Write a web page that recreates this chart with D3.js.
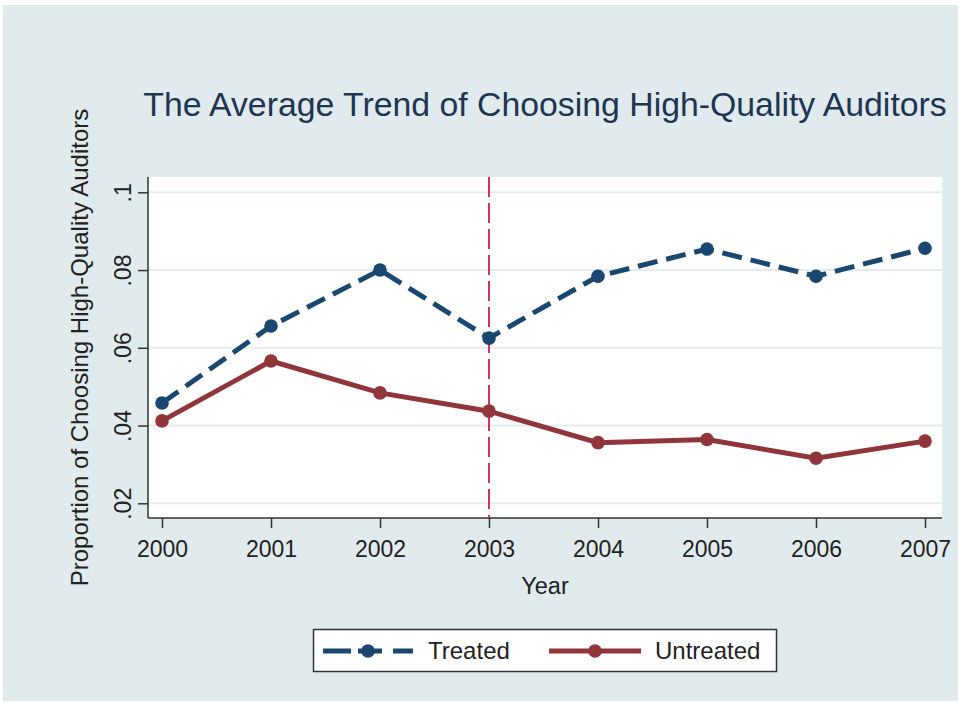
<!DOCTYPE html>
<html>
<head>
<meta charset="utf-8">
<script src="https://cdn.jsdelivr.net/npm/d3@7"></script>
<style>
  body { margin: 0; background: #ffffff; }
  text { font-family: "Liberation Sans", Arial, Helvetica, sans-serif; }
</style>
</head>
<body>
<svg id="chart"></svg>
<script>
// values
const years = [2000, 2001, 2002, 2003, 2004, 2005, 2006, 2007];
const treated = [0.0458, 0.0656, 0.0800, 0.0625, 0.0784, 0.0854, 0.0784, 0.0856];
const untreated = [0.0412, 0.0566, 0.0484, 0.0437, 0.0356, 0.0364, 0.0316, 0.0360];
const yTicks = [0.02, 0.04, 0.06, 0.08, 0.1];
const yTickLabels = [".02", ".04", ".06", ".08", ".1"];
const policyYear = 2003;
const seriesNames = ["Treated", "Untreated"];

const width = 959, height = 702;
const colors = {
  background: "#e1eaec",
  grid: "#e4ecee",
  treated: "#1a476f",
  untreated: "#90353b",
  vline: "#cf1f4a",
  text: "#222222",
  title: "#1e3553"
};

const plot = { left: 148, right: 942, top: 177, bottom: 518 };

const svg = d3.select("#chart")
    .attr("width", width)
    .attr("height", height);

svg.append("rect")
    .attr("x", 3).attr("y", 5)
    .attr("width", width - 4).attr("height", height - 6)
    .attr("fill", colors.background);

const x = d3.scaleLinear()
    .domain([2000, 2007])
    .range([162, 925]);

const y = d3.scaleLinear()
    .domain([0.02, 0.1])
    .range([503.3, 192.3]);

// plot region
svg.append("rect")
    .attr("x", plot.left).attr("y", plot.top)
    .attr("width", plot.right - plot.left)
    .attr("height", plot.bottom - plot.top)
    .attr("fill", "#ffffff");

// grid lines
svg.append("g")
    .selectAll("line")
    .data(yTicks)
    .enter().append("line")
    .attr("x1", plot.left).attr("x2", plot.right)
    .attr("y1", d => y(d)).attr("y2", d => y(d))
    .style("stroke", colors.grid)
    .style("stroke-width", 2);

// y axis
const yAxis = svg.append("g")
    .attr("transform", "translate(" + plot.left + ",0)")
    .call(d3.axisLeft(y).tickValues(yTicks).tickSize(10).tickPadding(0)
      .tickFormat((d, i) => yTickLabels[i]));
yAxis.select(".domain").remove();
yAxis.append("line")
    .attr("x1", 0).attr("x2", 0)
    .attr("y1", plot.top).attr("y2", plot.bottom)
    .style("stroke", "#333").style("stroke-width", 1.5);
yAxis.selectAll(".tick line").style("stroke", "#333").style("stroke-width", 1.5);
yAxis.selectAll(".tick text")
    .attr("x", 0).attr("dy", null)
    .attr("transform", "translate(-17,0) rotate(-90)")
    .attr("text-anchor", "middle")
    .style("font-size", "23px")
    .style("fill", colors.text);

// x axis
const xAxis = svg.append("g")
    .attr("transform", "translate(0," + plot.bottom + ")")
    .call(d3.axisBottom(x).tickValues(years).tickSize(10).tickPadding(8)
      .tickFormat(d3.format("d")));
xAxis.select(".domain").remove();
xAxis.append("line")
    .attr("x1", plot.left).attr("x2", plot.right)
    .attr("y1", 0).attr("y2", 0)
    .style("stroke", "#333").style("stroke-width", 1.5);
xAxis.selectAll(".tick line").style("stroke", "#333").style("stroke-width", 1.5);
xAxis.selectAll(".tick text")
    .attr("dy", null).attr("y", 39)
    .style("font-size", "23px")
    .style("fill", colors.text);

// axis titles
svg.append("text")
    .attr("x", (plot.left + plot.right) / 2)
    .attr("y", 594)
    .attr("text-anchor", "middle")
    .style("font-size", "23.5px")
    .style("fill", colors.text)
    .text("Year");

svg.append("text")
    .attr("transform", "translate(88," + ((plot.top + plot.bottom) / 2) + ") rotate(-90)")
    .attr("text-anchor", "middle")
    .style("font-size", "24px")
    .style("fill", colors.text)
    .text("Proportion of Choosing High-Quality Auditors");

// title
svg.append("text")
    .attr("x", (plot.left + plot.right) / 2)
    .attr("y", 116)
    .attr("text-anchor", "middle")
    .style("font-size", "33.8px")
    .style("fill", colors.title)
    .text("The Average Trend of Choosing High-Quality Auditors");

// vertical reference line at the policy year
svg.append("line")
    .attr("x1", x(policyYear)).attr("x2", x(policyYear))
    .attr("y1", plot.top).attr("y2", plot.bottom)
    .style("stroke", colors.vline)
    .style("stroke-width", 1.8)
    .style("stroke-dasharray", "20,6");

const line = d3.line()
    .x((d, i) => x(years[i]))
    .y(d => y(d));

function drawSeries(values, color, dash) {
  const g = svg.append("g");
  g.append("path")
      .datum(values)
      .attr("d", line)
      .attr("fill", "none")
      .style("stroke", color)
      .style("stroke-width", 5)
      .style("stroke-dasharray", dash);
  g.selectAll("circle")
      .data(values)
      .enter().append("circle")
      .attr("cx", (d, i) => x(years[i]))
      .attr("cy", d => y(d))
      .attr("r", 6.8)
      .attr("fill", color);
}

drawSeries(untreated, colors.untreated, null);
drawSeries(treated, colors.treated, "20,9");

// legend
const legend = svg.append("g");
legend.append("rect")
    .attr("x", 313.5).attr("y", 629.5)
    .attr("width", 463).attr("height", 42)
    .attr("fill", "#ffffff")
    .style("stroke", "#333")
    .style("stroke-width", 1.5);

const legendItems = [
  { name: seriesNames[0], color: colors.treated, dash: "28,7,24,11,21", x0: 323, x1: 413, label: 428 },
  { name: seriesNames[1], color: colors.untreated, dash: null, x0: 549, x1: 641, label: 655 }
];
legendItems.forEach(function(it) {
  legend.append("line")
      .attr("x1", it.x0).attr("x2", it.x1)
      .attr("y1", 651).attr("y2", 651)
      .style("stroke", it.color)
      .style("stroke-width", 5)
      .style("stroke-dasharray", it.dash);
  legend.append("circle")
      .attr("cx", (it.x0 + it.x1) / 2)
      .attr("cy", 651)
      .attr("r", 6.8)
      .attr("fill", it.color);
  legend.append("text")
      .attr("x", it.label)
      .attr("y", 659)
      .style("font-size", "24px")
      .style("fill", colors.text)
      .text(it.name);
});
</script>
</body>
</html>
